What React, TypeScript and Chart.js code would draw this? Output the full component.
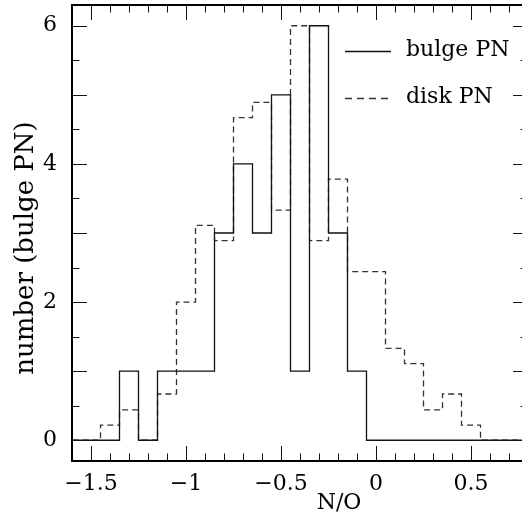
import React, { useEffect, useRef } from "react";
import { Chart, registerables } from "chart.js";

Chart.register(...registerables);

// Bin edges of the histograms (left edge of each bin, last entry = right edge of last bin)
const binEdges = [
  -1.65, -1.55, -1.45, -1.35, -1.25, -1.15, -1.05, -0.95, -0.85, -0.75,
  -0.65, -0.55, -0.45, -0.35, -0.25, -0.15, -0.05, 0.05, 0.15, 0.25,
  0.35, 0.45, 0.55, 0.65, 0.75, 0.85,
];

// bulge PN counts per bin
const bulgeCounts = [
  0, 0, 0, 1, 0, 1, 1, 1, 3, 4,
  3, 5, 1, 6, 3, 1, 0, 0, 0, 0,
  0, 0, 0, 0, 0,
];

// disk PN (scaled) per bin
const diskCounts = [
  0, 0, 0.22, 0.44, 0, 0.67, 2.0, 3.11, 2.89, 4.67,
  4.89, 3.33, 6.0, 2.89, 3.78, 2.44, 2.44, 1.33, 1.11, 0.44,
  0.67, 0.22, 0, 0, 0,
];

const seriesLabels = ["bulge PN", "disk PN"];

const xLabelValues = [-1.5, -1, -0.5, 0, 0.5];
const xLabelTexts = ["\u22121.5", "\u22121", "\u22120.5", "0", "0.5"];
const yLabelValues = [0, 2, 4, 6];
const yLabelTexts = ["0", "2", "4", "6"];

const xTitle = "N/O";
const yTitle = "number (bulge PN)";

const FONT = "'DejaVu Serif', serif";

function toSteps(counts: number[]) {
  return binEdges.map((x, i) => ({ x, y: counts[Math.min(i, counts.length - 1)] }));
}

function findLabel(v: number, values: number[], texts: string[]) {
  for (let i = 0; i < values.length; i++) {
    if (Math.abs(values[i] - v) < 1e-6) return texts[i];
  }
  return "";
}

const frameTicksPlugin = {
  id: "frameTicks",
  afterDatasetsDraw(chart: any) {
    const { ctx, chartArea: a, scales } = chart;
    const xs = scales.x;
    const ys = scales.y;
    ctx.save();
    ctx.strokeStyle = "#111";
    ctx.lineWidth = 1;
    ctx.setLineDash([]);
    ctx.beginPath();
    xs.ticks.forEach((t: any) => {
      const v = t.value;
      if (Math.abs(v * 10 - Math.round(v * 10)) > 1e-6) return;
      const major = Math.abs(v * 2 - Math.round(v * 2)) < 1e-6;
      const len = major ? 15 : 7.5;
      const px = Math.round(xs.getPixelForValue(v)) + 0.5;
      ctx.moveTo(px, a.bottom);
      ctx.lineTo(px, a.bottom - len);
      ctx.moveTo(px, a.top);
      ctx.lineTo(px, a.top + len);
    });
    ys.ticks.forEach((t: any) => {
      const v = t.value;
      if (Math.abs(v * 2 - Math.round(v * 2)) > 1e-6) return;
      const major = Math.abs(v - Math.round(v)) < 1e-6;
      const len = major ? 15 : 7.5;
      const py = Math.round(ys.getPixelForValue(v)) + 0.5;
      ctx.moveTo(a.left, py);
      ctx.lineTo(a.left + len, py);
      ctx.moveTo(a.right, py);
      ctx.lineTo(a.right - len, py);
    });
    ctx.stroke();

    // frame
    ctx.strokeStyle = "#000";
    ctx.lineWidth = 2;
    ctx.strokeRect(a.left, a.top, a.right - a.left, a.bottom - a.top);

    // legend
    ctx.font = `22px ${FONT}`;
    ctx.fillStyle = "#000";
    ctx.textAlign = "left";
    ctx.textBaseline = "middle";
    const rows = [51, 98];
    chart.data.datasets.forEach((ds: any, i: number) => {
      const y = rows[i] + 0.5;
      ctx.beginPath();
      ctx.strokeStyle = ds.borderColor;
      ctx.lineWidth = ds.borderWidth;
      ctx.setLineDash(ds.borderDash ? [7, 5] : []);
      ctx.moveTo(345, y);
      ctx.lineTo(391, y);
      ctx.stroke();
      ctx.setLineDash([]);
      ctx.fillText(ds.label, 406, rows[i] - 1);
    });

    // axis titles
    ctx.textAlign = "center";
    ctx.textBaseline = "middle";
    ctx.font = `22px ${FONT}`;
    ctx.fillText(xTitle, 339, 503);
    ctx.save();
    ctx.translate(26, 248);
    ctx.rotate(-Math.PI / 2);
    ctx.font = `26px ${FONT}`;
    ctx.fillText(yTitle, 0, 0);
    ctx.restore();

    ctx.restore();
  },
};

export default function App() {
  const ref = useRef<HTMLCanvasElement | null>(null);

  useEffect(() => {
    if (!ref.current) return;
    const chart = new Chart(ref.current, {
      type: "line",
      data: {
        datasets: [
          {
            label: seriesLabels[0],
            data: toSteps(bulgeCounts),
            stepped: "before",
            borderColor: "#111",
            borderWidth: 1.3,
            pointRadius: 0,
            fill: false,
          },
          {
            label: seriesLabels[1],
            data: toSteps(diskCounts),
            stepped: "before",
            borderColor: "#333",
            borderWidth: 1.3,
            borderDash: [6, 4],
            pointRadius: 0,
            fill: false,
          },
        ],
      },
      options: {
        responsive: false,
        animation: false,
        devicePixelRatio: 1,
        layout: { padding: { left: 0, top: 5, right: 12, bottom: 0 } },
        plugins: {
          legend: { display: false },
          tooltip: { enabled: false },
        },
        scales: {
          x: {
            type: "linear",
            min: -1.6,
            max: 0.8,
            grid: { display: false, drawTicks: false },
            border: { display: false },
            ticks: {
              stepSize: 0.1,
              autoSkip: false,
              maxRotation: 0,
              padding: 10,
              color: "#000",
              font: { family: FONT, size: 22 },
              callback: (v: any) => findLabel(Number(v), xLabelValues, xLabelTexts),
            },
            afterFit: (s: any) => {
              s.height = 57;
              s.paddingLeft = 0;
              s.paddingRight = 0;
            },
          },
          y: {
            type: "linear",
            min: -0.3,
            max: 6.3,
            grid: { display: false, drawTicks: false },
            border: { display: false },
            ticks: {
              stepSize: 0.5,
              includeBounds: false,
              autoSkip: false,
              padding: 15,
              color: "#000",
              font: { family: FONT, size: 22 },
              callback: (v: any) => findLabel(Number(v), yLabelValues, yLabelTexts),
            },
            afterFit: (s: any) => {
              s.width = 72;
              s.paddingTop = 0;
              s.paddingBottom = 0;
            },
          },
        },
      },
      plugins: [frameTicksPlugin],
    });
    return () => chart.destroy();
  }, []);

  return (
    <div
      style={{
        position: "fixed",
        left: 0,
        top: 0,
        width: 522,
        height: 518,
        overflow: "hidden",
        background: "#fff",
      }}
    >
      <canvas ref={ref} width={540} height={518} style={{ display: "block" }} />
    </div>
  );
}
